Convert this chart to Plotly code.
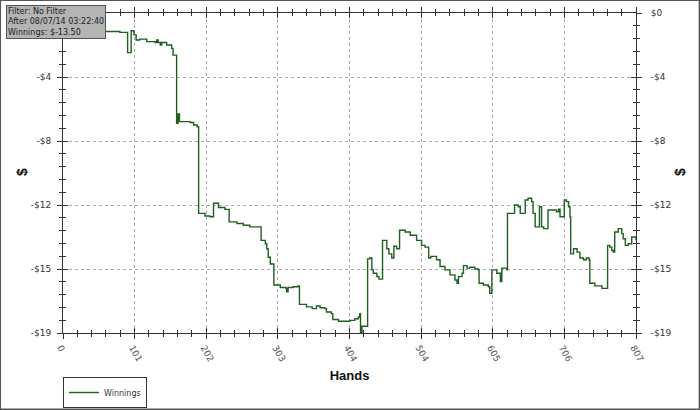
import numpy as np
import plotly.graph_objects as go

# ---- data ----
hands = [0, 31, 56, 80, 91, 96, 100, 103, 108, 118, 130, 132, 134, 137, 139, 146, 153, 155,
         160, 162, 164, 179, 184, 189, 191, 200, 207, 212, 219, 228, 234, 245, 254, 263, 279,
         285, 287, 289, 292, 297, 306, 314, 315, 317, 324, 331, 333, 343, 351, 357, 362, 369,
         371, 378, 380, 388, 404, 411, 416, 418, 419, 421, 429, 432, 435, 437, 442, 445, 450,
         456, 459, 463, 466, 470, 474, 482, 489, 498, 505, 510, 515, 518, 526, 531, 538, 545,
         552, 555, 557, 562, 564, 569, 573, 580, 585, 586, 592, 599, 601, 604, 611, 616, 618,
         625, 626, 636, 641, 644, 651, 655, 660, 662, 665, 671, 674, 677, 683, 695, 698, 700,
         706, 709, 712, 714, 715, 719, 724, 728, 733, 737, 741, 742, 749, 759, 767, 770, 773,
         775, 777, 782, 787, 789, 792, 796, 801, 807]
winnings = [-0.9, -1.0, -1.1, -1.15, -2.35, -1.05, -1.3, -1.6, -1.55, -1.7, -1.75, -1.6, -1.75,
            -1.9, -1.75, -1.9, -2.1, -2.5, -6.55, -6.0, -6.45, -6.5, -6.65, -6.75, -11.9, -12.05,
            -12.1, -11.3, -11.55, -11.66, -12.4, -12.5, -12.6, -12.7, -13.5, -13.7, -14.0, -14.5,
            -14.9, -16.15, -16.3, -16.35, -16.55, -16.3, -16.25, -16.2, -17.3, -17.45, -17.55,
            -17.4, -17.5, -17.55, -17.75, -17.85, -18.2, -18.3, -18.25, -18.15, -18.05, -17.85,
            -19.0, -18.6, -14.6, -14.55, -15.25, -15.45, -15.65, -15.8, -13.5, -14.0, -14.3,
            -14.55, -13.85, -14.0, -12.9, -13.0, -13.2, -13.5, -13.8, -13.9, -14.55, -14.45,
            -14.65, -15.05, -15.25, -15.55, -15.85, -16.05, -15.65, -15.45, -15.0, -15.15, -15.1,
            -15.2, -15.25, -16.05, -16.15, -16.25, -16.65, -15.25, -15.45, -15.95, -15.15,
            -15.25, -11.9, -11.4, -11.5, -11.9, -11.1, -11.0, -11.2, -11.9, -12.7, -11.5, -12.7,
            -12.8, -11.7, -11.8, -11.65, -12.1, -11.1, -11.2, -11.5, -12.1, -14.3, -14.0, -14.2,
            -14.55, -14.65, -14.55, -14.65, -16.05, -16.2, -16.35, -13.8, -13.9, -14.1, -14.2,
            -13.0, -12.8, -13.1, -13.4, -13.8, -13.7, -13.3, -13.5]

x_tick_labels = ["0", "101", "202", "303", "404", "504", "605", "706", "807"]
y_tick_labels = ["$0", "-$4", "-$8", "-$12", "-$15", "-$19"]
info_lines = ["Filter: No Filter", "After 08/07/14 03:22:40", "Winnings: $-13.50"]
x_title = "Hands"
y_title = "$"

X_MAX = 807
Y_MIN = -19

xt = np.linspace(0, X_MAX, len(x_tick_labels))
yt = np.linspace(0, Y_MIN, len(y_tick_labels))
x_minor = np.linspace(0, X_MAX, (len(x_tick_labels) - 1) * 5 + 1)
y_minor = np.linspace(0, Y_MIN, (len(y_tick_labels) - 1) * 5 + 1)

FONT = "DejaVu Sans"
AXC = "#333333"
PW, PH = 573, 320  # plot area size in px

fig = go.Figure()
fig.add_trace(go.Scatter(
    x=hands, y=winnings, mode="lines", name="Winnings",
    line=dict(color="#1f5f1f", width=1.4, shape="hv"),
    xaxis="x", yaxis="y",
))
# empty helper trace so the overlaid (inside-tick / right-label) axes are drawn
fig.add_trace(go.Scatter(x=[None], y=[None], mode="lines", showlegend=False,
                         hoverinfo="skip", xaxis="x2", yaxis="y2"))

common_x = dict(range=[0, X_MAX], showline=True, linecolor=AXC, linewidth=1,
                tickmode="array", tickvals=xt, tickcolor=AXC, ticklen=5, zeroline=False,
                automargin=False)
common_y = dict(range=[Y_MIN, 0], showline=True, linecolor=AXC, linewidth=1,
                tickmode="array", tickvals=yt, tickcolor=AXC, ticklen=5, zeroline=False,
                automargin=False)

fig.update_layout(
    width=700, height=410,
    margin=dict(l=63, r=64, t=13, b=77, autoexpand=False),
    paper_bgcolor="white", plot_bgcolor="white",
    font=dict(family=FONT, size=9, color="#333"),
    xaxis=dict(**common_x, ticks="outside", mirror="ticks", ticktext=x_tick_labels,
               tickangle=60, tickfont=dict(size=9, color="#555"), ticklabelshift=-2,
               showgrid=True, gridcolor="#aaa", griddash="dot", gridwidth=1,
               minor=dict(tickmode="array", tickvals=x_minor, ticks="outside", ticklen=3,
                          tickcolor=AXC, showgrid=False),
               title=dict(text="<b>" + x_title + "</b>",
                          font=dict(family="Liberation Sans", size=13, color="#111"),
                          standoff=8)),
    xaxis2=dict(**common_x, overlaying="x", anchor="y2", side="bottom", ticks="inside",
                mirror="ticks", showticklabels=False, showgrid=False,
                minor=dict(tickmode="array", tickvals=x_minor, ticks="inside", ticklen=3,
                           tickcolor=AXC, showgrid=False)),
    yaxis=dict(**common_y, ticks="outside", mirror="ticks", ticktext=y_tick_labels,
               tickfont=dict(size=9, color="#333"), ticklabelstandoff=4,
               showgrid=True, gridcolor="#aaa", griddash="dot", gridwidth=1,
               minor=dict(tickmode="array", tickvals=y_minor, ticks="outside", ticklen=3,
                          tickcolor=AXC, showgrid=False)),
    yaxis2=dict(**common_y, overlaying="y", anchor="x2", side="right", ticks="inside",
                mirror="ticks", ticktext=y_tick_labels, showticklabels=True,
                tickfont=dict(size=9, color="#333"), ticklabelstandoff=12, showgrid=False,
                minor=dict(tickmode="array", tickvals=y_minor, ticks="inside", ticklen=3,
                           tickcolor=AXC, showgrid=False)),
    showlegend=True,
    legend=dict(x=0, xanchor="left", y=-0.1375, yanchor="top", bordercolor="#333",
                borderwidth=1, bgcolor="white", font=dict(size=8, color="#333"),
                itemwidth=30, tracegroupgap=0),
)

# rotated "$" axis titles on both sides
for px in (22, 680):
    fig.add_annotation(
        xref="paper", yref="paper", x=(px - 63) / PW, y=(333 - 172) / PH,
        xanchor="center", yanchor="middle", text="<b>" + y_title + "</b>", textangle=-90,
        showarrow=False, font=dict(family="Liberation Sans", size=14, color="#111"),
    )

fig.add_annotation(
    xref="paper", yref="paper", x=-57 / PW, y=1 + 8 / PH, xanchor="left", yanchor="top",
    text="<br>".join(info_lines), showarrow=False, align="left",
    font=dict(family=FONT, size=8, color="#222"),
    bgcolor="#b4b4b4", bordercolor="#555", borderwidth=1, borderpad=1,
)

# outer frame
fig.add_shape(type="rect", xref="paper", yref="paper",
              x0=-63 / PW + 0.0005, x1=(700 - 63) / PW - 0.001,
              y0=-77 / PH + 0.002, y1=1 + 13 / PH - 0.001,
              line=dict(color="#555", width=1.5), layer="below")

fig.write_html("out.html", config={"displayModeBar": False},
               post_script="document.body.style.margin='0';document.body.style.overflow='hidden';")
